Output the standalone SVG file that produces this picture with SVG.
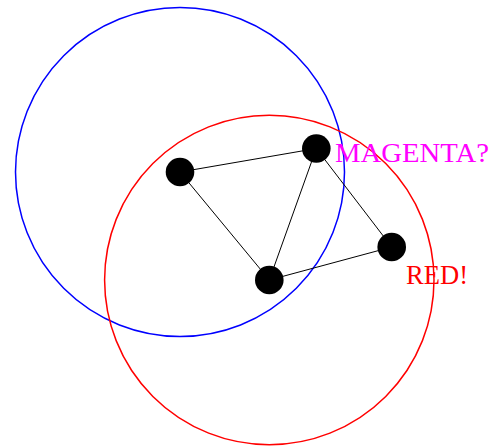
<svg xmlns="http://www.w3.org/2000/svg" width="493" height="447" viewBox="0 0 493 447">
<style>
.ring{fill:none;stroke-width:1.5}
.edge{stroke:#000;stroke-width:1}
.node{fill:#000}
.lbl{font-family:"Liberation Serif","Times New Roman",serif;font-size:28px}
</style>
<rect width="493" height="447" fill="#fff"/>
<g id="rings">
<circle class="ring" cx="180" cy="172" r="164.5" stroke="#0000ff"/>
<circle class="ring" cx="269.3" cy="280" r="164.7" stroke="#ff0000"/>
</g>
<g id="connectors">
<line class="edge" x1="180" y1="172" x2="316.3" y2="148.5"/>
<line class="edge" x1="180" y1="172" x2="269.3" y2="280"/>
<line class="edge" x1="316.3" y1="148.5" x2="269.3" y2="280"/>
<line class="edge" x1="316.3" y1="148.5" x2="391.7" y2="247"/>
<line class="edge" x1="269.3" y1="280" x2="391.7" y2="247"/>
</g>
<g id="nodeA"><circle class="node" cx="180" cy="172" r="14.3"/></g>
<g id="nodeB"><circle class="node" cx="316.3" cy="148.5" r="14.3"/></g>
<g id="nodeC"><circle class="node" cx="391.7" cy="247" r="14.3"/></g>
<g id="nodeD"><circle class="node" cx="269.3" cy="280" r="14.3"/></g>
<text class="lbl" x="335" y="161.7" fill="#ff00ff" textLength="154" lengthAdjust="spacingAndGlyphs">MAGENTA?</text>
<text class="lbl" x="406" y="284.3" fill="#ff0000" textLength="62" lengthAdjust="spacingAndGlyphs">RED!</text>
</svg>
